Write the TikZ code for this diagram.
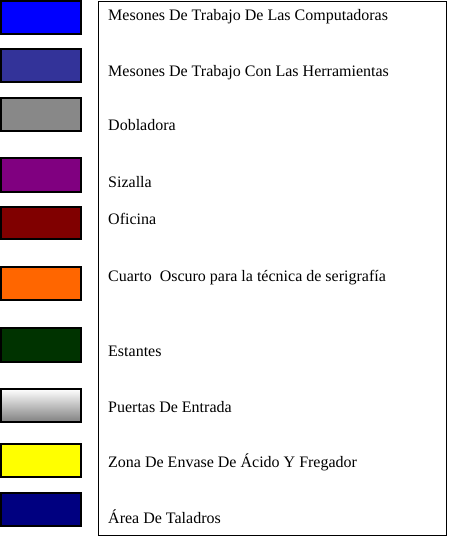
\documentclass[tikz,border=0pt]{standalone}
\usepackage{fontspec}
\setmainfont{Liberation Serif}
\definecolor{cA}{HTML}{0000FF}
\definecolor{cB}{HTML}{333399}
\definecolor{cC}{HTML}{888888}
\definecolor{cD}{HTML}{800080}
\definecolor{cE}{HTML}{800000}
\definecolor{cF}{HTML}{FF6600}
\definecolor{cG}{HTML}{003300}
\definecolor{cH}{HTML}{808080}
\definecolor{cI}{HTML}{FFFF00}
\definecolor{cJ}{HTML}{000080}
\begin{document}
\begin{tikzpicture}[x=1pt,y=-1pt,
  swatch/.style={draw=black,line width=1.2pt},
  lbl/.style={anchor=base west,inner sep=0pt,font=\fontsize{16}{18}\selectfont},
  frame/.style={draw=black,line width=1pt}]
\useasboundingbox (0,0) rectangle (448,537);
\draw[frame] (98,2) rectangle (446,535);
\path[swatch,fill=cA] (1,1) rectangle (81,34);
\path[swatch,fill=cB] (1,49) rectangle (81,82);
\path[swatch,fill=cC] (1,98) rectangle (81,131);
\path[swatch,fill=cD] (1,158) rectangle (81,192);
\path[swatch,fill=cE] (1,207) rectangle (81,239);
\path[swatch,fill=cF] (1,267) rectangle (81,300);
\path[swatch,fill=cG] (1,328) rectangle (81,362);
\path[swatch,top color=white,bottom color=cH] (1,389) rectangle (81,422);
\path[swatch,fill=cI] (1,444) rectangle (81,477);
\path[swatch,fill=cJ] (1,493) rectangle (81,526);
\node[lbl] (t1) at (108,21) {Mesones De Trabajo De Las Computadoras};
\node[lbl] (t2) at (108,77) {Mesones De Trabajo Con Las Herramientas};
\node[lbl] (t3) at (108,131) {Dobladora};
\node[lbl] (t4) at (108,188) {Sizalla};
\node[lbl] (t5) at (108,224) {Oficina};
\node[lbl] (t6) at (108,281) {Cuarto\ \ Oscuro para la técnica de serigrafía};
\node[lbl] (t7) at (108,356) {Estantes};
\node[lbl] (t8) at (108,412) {Puertas De Entrada};
\node[lbl] (t9) at (108,467) {Zona De Envase De Ácido Y Fregador};
\node[lbl] (t10) at (108,523) {Área De Taladros};
\end{tikzpicture}
\end{document}
